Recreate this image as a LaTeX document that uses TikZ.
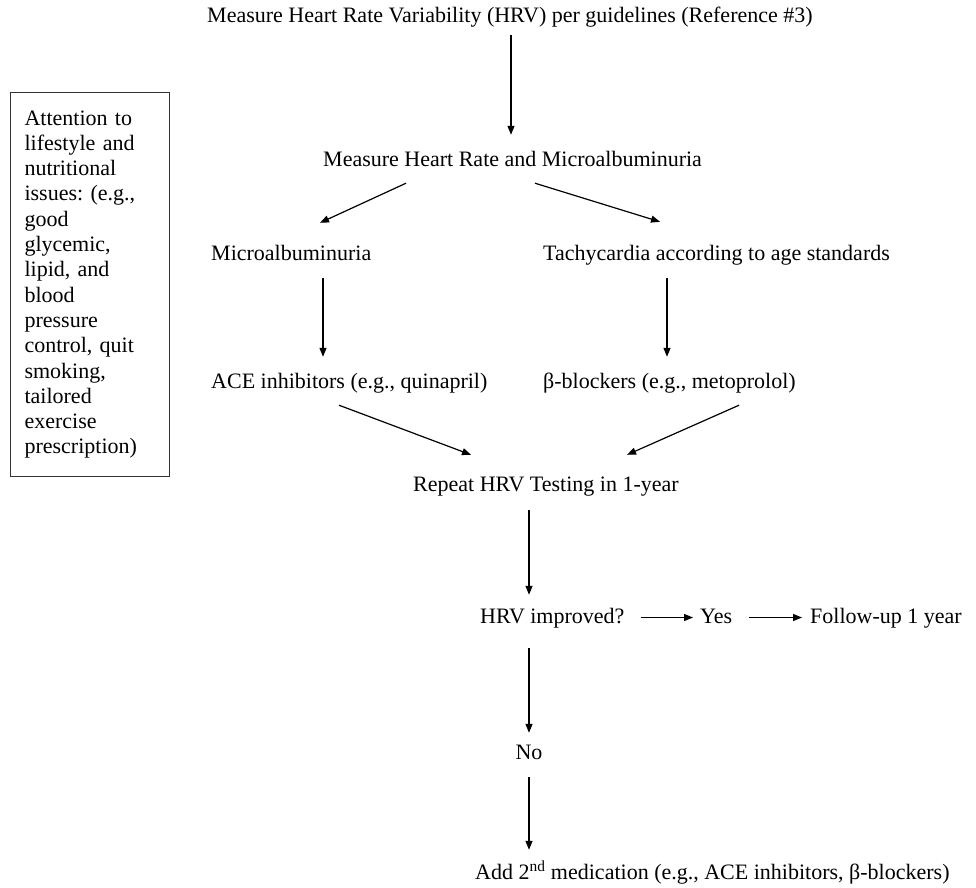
\documentclass[tikz,border=0pt]{standalone}
\usepackage{fontspec}
\setmainfont{Liberation Serif}
\usetikzlibrary{arrows.meta,calc}
\begin{document}
\frenchspacing
\begin{tikzpicture}[x=1pt,y=-1pt,
 lbl/.style={inner sep=0pt, anchor=base west, text height=16pt, text depth=5pt, font=\fontsize{22}{26}\selectfont},
 arr/.style={-{Triangle[length=9pt,width=7pt]}, line width=1.2pt},
 sidebox/.style={draw=black!80, line width=1.1pt, anchor=north west, minimum width=159pt, minimum height=384pt, inner xsep=14pt, text width=131pt, align=left, font=\fontsize{22}{25.3}\selectfont},
]
\useasboundingbox (0,0) rectangle (976,887);
\node[lbl] (top) at (207,22) {Measure Heart Rate Variability (HRV) per guidelines (Reference \#3)};
\node[lbl] (mhr) at (323,166) {Measure Heart Rate and Microalbuminuria};
\node[lbl] (micro) at (211,260) {Microalbuminuria};
\node[lbl] (tachy) at (543,260) {Tachycardia according to age standards};
\node[lbl] (ace) at (211,388) {ACE inhibitors (e.g., quinapril)};
\node[lbl] (beta) at (543,388) {β-blockers (e.g., metoprolol)};
\node[lbl] (repeat) at (413,491) {Repeat HRV Testing in 1-year};
\node[lbl] (hrvi) at (480,623) {HRV improved?};
\node[lbl] (yes) at (700,623) {Yes};
\node[lbl] (follow) at (810,623) {Follow-up 1 year};
\node[lbl, anchor=base] (no) at (529,759) {No};
\node[lbl] (add) at (475,879) {Add 2\textsuperscript{nd} medication (e.g., ACE inhibitors, β-blockers)};
\node[sidebox] (life) at (10,92) {Attention~to\\ lifestyle~and\\ nutritional\\ issues:~(e.g.,\\ good\\ glycemic,\\ lipid,~and\\ blood\\ pressure\\ control,~quit\\ smoking,\\ tailored\\ exercise\\ prescription)};

\draw[arr] ($(top.south west)+(304,8)$) -- ($(mhr.north west)+(188,-15)$);
\draw[arr] ($(mhr.south west)+(83,12)$) -- ($(micro.north west)+(109,-21)$);
\draw[arr] ($(mhr.south west)+(212,12)$) -- ($(tachy.north west)+(117,-22)$);
\draw[arr] ($(micro.south west)+(112,13)$) -- ($(ace.north west)+(112,-15)$);
\draw[arr] ($(tachy.south west)+(124,13)$) -- ($(beta.north west)+(124,-15)$);
\draw[arr] ($(ace.south west)+(128,12)$) -- ($(repeat.north west)+(58,-20)$);
\draw[arr] ($(beta.south west)+(196,12)$) -- ($(repeat.north west)+(214,-20)$);
\draw[arr] ($(repeat.south west)+(116,14)$) -- ($(hrvi.north west)+(49,-12)$);
\draw[arr, shorten <=16pt, shorten >=7pt] (hrvi.east) -- (yes.west);
\draw[arr, shorten <=17pt, shorten >=8pt] (yes.east) -- (follow.west);
\draw[arr] ($(hrvi.south west)+(49,20)$) -- ($(no.north)+(0,-10)$);
\draw[arr] ($(no.south)+(0,13)$) -- ($(add.north west)+(54,-13)$);
\end{tikzpicture}
\end{document}
